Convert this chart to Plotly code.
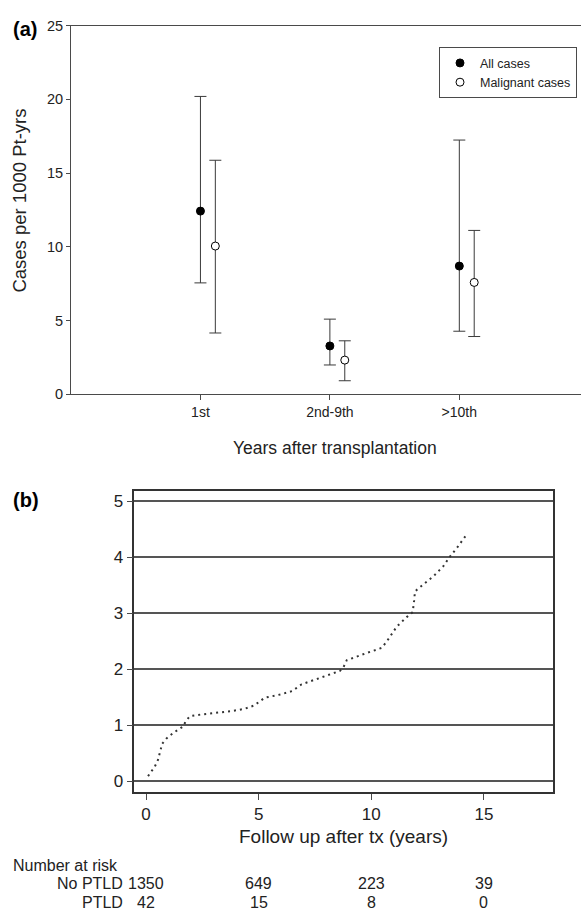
import plotly.graph_objects as go

W, H = 581, 919

# ---------- Panel (a) data ----------
periods = ["1st", "2nd-9th", ">10th"]
all_rate = [12.42, 3.27, 8.69]
all_upper = [20.2, 5.09, 17.24]
all_lower = [7.55, 1.98, 4.27]
mal_rate = [10.05, 2.31, 7.58]
mal_upper = [15.87, 3.62, 11.11]
mal_lower = [4.15, 0.91, 3.91]

# ---------- Panel (b) data ----------
follow_t = [0.09, 0.39, 0.53, 0.65, 0.72, 0.90, 1.24, 1.66, 1.76, 1.95, 2.43, 3.76,
            4.35, 4.79, 5.06, 5.27, 5.98, 6.49, 6.91, 7.72, 8.61, 8.76, 8.91, 9.80,
            10.46, 10.68, 11.13, 11.57, 11.84, 11.90, 11.94, 12.24, 12.76, 13.20,
            13.47, 13.79, 14.26]
cum_inc = [0.09, 0.26, 0.38, 0.59, 0.67, 0.76, 0.87, 0.98, 1.07, 1.16, 1.19, 1.25,
           1.29, 1.35, 1.42, 1.49, 1.55, 1.61, 1.73, 1.85, 1.97, 2.03, 2.16, 2.29,
           2.38, 2.49, 2.76, 2.93, 3.02, 3.22, 3.39, 3.49, 3.66, 3.84,
           4.00, 4.16, 4.42]

risk_times = [0, 5, 10, 15]
risk_no_ptld = ["1350", "649", "223", "39"]
risk_ptld = ["42", "15", "8", "0"]

FONT = "Arial, Liberation Sans, Helvetica, sans-serif"
LINE = "#4a4a4a"
TXT = "#222222"

def px_x(p):
    return p / W

def px_y(p):
    return 1 - p / H

pos = [1, 2, 3]
offset = 0.115

fig = go.Figure()

fig.add_trace(go.Scatter(
    x=pos, y=all_rate, mode="markers", name="All cases",
    marker=dict(symbol="circle", size=8, color="black", line=dict(color="black", width=1)),
    error_y=dict(type="data", symmetric=False,
                 array=[u - v for u, v in zip(all_upper, all_rate)],
                 arrayminus=[v - l for v, l in zip(all_rate, all_lower)],
                 color="#3a3a3a", thickness=1, width=6),
    xaxis="x", yaxis="y"))

fig.add_trace(go.Scatter(
    x=[p + offset for p in pos], y=mal_rate, mode="markers", name="Malignant cases",
    marker=dict(symbol="circle", size=8, color="white", line=dict(color="black", width=1)),
    error_y=dict(type="data", symmetric=False,
                 array=[u - v for u, v in zip(mal_upper, mal_rate)],
                 arrayminus=[v - l for v, l in zip(mal_rate, mal_lower)],
                 color="#3a3a3a", thickness=1, width=6),
    xaxis="x", yaxis="y"))

fig.add_trace(go.Scatter(
    x=follow_t, y=cum_inc, mode="lines", showlegend=False,
    line=dict(color="#333333", width=2, dash="2px,4px"),
    xaxis="x2", yaxis="y2"))

fig.update_layout(
    width=W, height=H,
    margin=dict(l=0, r=0, t=0, b=0),
    paper_bgcolor="white", plot_bgcolor="white",
    font=dict(family=FONT, color=TXT),
    showlegend=True,
    legend=dict(x=px_x(439), y=px_y(40), xanchor="left", yanchor="top",
                bordercolor=LINE, borderwidth=1, bgcolor="white",
                font=dict(size=12.5, family=FONT, color=TXT),
                itemwidth=30, tracegroupgap=0),
    xaxis=dict(domain=[px_x(71), 1.0], range=[0, 3.94],
               tickmode="array", tickvals=pos, ticktext=periods,
               ticks="outside", ticklen=5, tickcolor=LINE,
               showline=True, linecolor=LINE, linewidth=1, mirror=True,
               showgrid=False, zeroline=False,
               tickfont=dict(size=14, family=FONT, color=TXT)),
    yaxis=dict(domain=[px_y(393), px_y(18)], range=[0, 25],
               tickmode="array", tickvals=[0, 5, 10, 15, 20, 25],
               ticks="outside", ticklen=4, tickcolor=LINE,
               showline=True, linecolor=LINE, linewidth=1,
               showgrid=False, zeroline=False,
               tickfont=dict(size=14.5, family=FONT, color=TXT)),
    xaxis2=dict(domain=[px_x(134.3), px_x(553.3)], range=[-0.52, 18.08],
                anchor="y2",
                tickmode="array", tickvals=risk_times,
                ticks="outside", ticklen=6, tickcolor=LINE,
                showline=True, linecolor="#333333", linewidth=1.5, mirror=True,
                showgrid=False, zeroline=False,
                tickfont=dict(size=17, family=FONT, color=TXT)),
    yaxis2=dict(domain=[px_y(797.7), px_y(491.7)], range=[-0.19, 5.18],
                anchor="x2",
                tickmode="array", tickvals=[0, 1, 2, 3, 4, 5],
                ticks="outside", ticklen=6, tickcolor=LINE,
                showline=True, linecolor="#333333", linewidth=1.5, mirror=True,
                showgrid=True, gridcolor="#555555", gridwidth=1.5, zeroline=False,
                tickfont=dict(size=17, family=FONT, color=TXT)),
)

RISK_FS = 16
ann = []
ann.append(dict(text="<b>(a)</b>", x=px_x(11), y=px_y(21), xref="paper", yref="paper",
                xanchor="left", yanchor="middle", showarrow=False,
                font=dict(size=20, family=FONT, color="black")))
ann.append(dict(text="<b>(b)</b>", x=px_x(11), y=px_y(501), xref="paper", yref="paper",
                xanchor="left", yanchor="middle", showarrow=False,
                font=dict(size=20, family=FONT, color="black")))
ann.append(dict(text="Cases per 1000 Pt-yrs", x=px_x(20), y=px_y(196), xref="paper", yref="paper",
                xanchor="center", yanchor="middle", textangle=-90, showarrow=False,
                font=dict(size=18.5, family=FONT, color=TXT)))
ann.append(dict(text="Years after transplantation", x=px_x(335), y=px_y(448), xref="paper", yref="paper",
                xanchor="center", yanchor="middle", showarrow=False,
                font=dict(size=17.5, family=FONT, color=TXT)))
ann.append(dict(text="Follow up after tx (years)", x=px_x(343), y=px_y(843), xref="paper", yref="paper",
                xanchor="center", yanchor="middle", showarrow=False,
                font=dict(size=19, family=FONT, color=TXT)))
ann.append(dict(text="Number at risk", x=px_x(11), y=px_y(872.5), xref="paper", yref="paper",
                xanchor="left", yanchor="middle", showarrow=False,
                font=dict(size=RISK_FS, family=FONT, color=TXT)))
ann.append(dict(text="No PTLD", x=px_x(125), y=px_y(891.5), xref="paper", yref="paper",
                xanchor="right", yanchor="middle", showarrow=False,
                font=dict(size=RISK_FS, family=FONT, color=TXT)))
ann.append(dict(text="PTLD", x=px_x(125), y=px_y(910.5), xref="paper", yref="paper",
                xanchor="right", yanchor="middle", showarrow=False,
                font=dict(size=RISK_FS, family=FONT, color=TXT)))
for t, a, b in zip(risk_times, risk_no_ptld, risk_ptld):
    ann.append(dict(text=a, x=t, y=px_y(891.5), xref="x2", yref="paper",
                    xanchor="center", yanchor="middle", showarrow=False,
                    font=dict(size=RISK_FS, family=FONT, color=TXT)))
    ann.append(dict(text=b, x=t, y=px_y(910.5), xref="x2", yref="paper",
                    xanchor="center", yanchor="middle", showarrow=False,
                    font=dict(size=RISK_FS, family=FONT, color=TXT)))
fig.update_layout(annotations=ann)

fig.write_html("out.html", config={"displayModeBar": False},
               post_script="document.body.style.margin='0px';")
